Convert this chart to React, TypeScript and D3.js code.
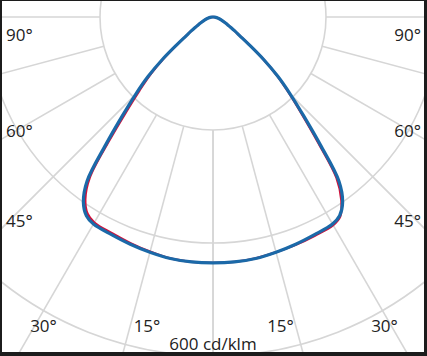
import React from "react";
import * as d3 from "d3";

// ---- data (cd/klm) ----
const gammaDeg = [0, 5, 10, 15, 20, 25, 30, 32.5, 35, 37.5, 40, 42.5, 45, 47.5, 50, 52.5, 55, 57.5, 60, 62.5, 65, 70, 75, 80, 85, 90];
const blueIntensity = [435, 435, 434, 431, 428, 425, 423, 417, 400, 366, 296, 238, 194, 156, 117, 81, 58, 45, 35, 28.5, 23, 16, 10.5, 6.5, 3, 0];
const redLeftIntensity = [435, 435, 434, 430, 426, 422.5, 420, 413, 394, 358, 286, 227, 184, 149, 113, 79, 57.5, 45, 35, 28.5, 23, 16, 10.5, 6.5, 3, 0];
const redRightIntensity = [435, 435, 434, 431, 429, 427, 425.5, 419, 396, 359, 288, 232, 190, 154, 116, 81, 58, 45, 35, 28.5, 23, 16, 10.5, 6.5, 3, 0];
const circleValues = [200, 400, 600, 800];
const radialAngles = [0, 15, 30, 45, 60, 75, 90];
const sideLabels = ["90°", "60°", "45°"];
const bottomLabels = ["30°", "15°", "15°", "30°"];
const unitLabel = "600 cd/klm";

const W = 427;
const H = 356;
const cx = 213;
const cy = 17;

const r = d3.scaleLinear().domain([0, 600]).range([0, 339]);

function buildPoints(left: number[], right: number[]): [number, number][] {
  const pts: [number, number][] = [[0, 0]];
  for (let i = gammaDeg.length - 1; i >= 0; i--) {
    if (left[i] > 0) pts.push([Math.PI + (gammaDeg[i] * Math.PI) / 180, r(left[i])]);
  }
  for (let i = 1; i < gammaDeg.length; i++) {
    if (right[i] > 0) pts.push([Math.PI - (gammaDeg[i] * Math.PI) / 180, r(right[i])]);
  }
  return pts;
}

const line = d3
  .lineRadial<[number, number]>()
  .angle((d) => d[0])
  .radius((d) => d[1])
  .curve(d3.curveCatmullRomClosed.alpha(0.5));

export default function App() {
  const bluePath = line(buildPoints(blueIntensity, blueIntensity)) || "";
  const redPath = line(buildPoints(redLeftIntensity, redRightIntensity)) || "";
  const font = "'Open Sans', 'Noto Sans', sans-serif";
  const r0 = r(circleValues[0]);
  return (
    <div style={{ position: "absolute", left: 0, top: 0 }}>
      <svg width={W} height={H} style={{ display: "block" }}>
        <defs>
          <clipPath id="inner">
            <rect x={2} y={1} width={422} height={351} />
          </clipPath>
        </defs>
        <rect x={0} y={0} width={W} height={H} fill="#1c1c1c" />
        <rect x={2} y={1} width={422} height={351} fill="#ffffff" />
        <g clipPath="url(#inner)">
          <g transform={`translate(${cx},${cy})`} stroke="#d6d6d6" strokeWidth={1.6} fill="none">
            {circleValues.map((v) => (
              <circle key={v} r={r(v)} />
            ))}
            {radialAngles.flatMap((a) =>
              [-1, 1].map((s) => {
                const t = (a * Math.PI) / 180;
                const x1 = s * r0 * Math.sin(t);
                const y1 = r0 * Math.cos(t);
                const x2 = s * 700 * Math.sin(t);
                const y2 = 700 * Math.cos(t);
                return <line key={`${a}_${s}`} x1={x1} y1={y1} x2={x2} y2={y2} />;
              })
            )}
          </g>
          <g transform={`translate(${cx},${cy})`} fill="none" strokeLinejoin="round">
            <path d={redPath} stroke="#d0103a" strokeWidth={2.3} />
            <path d={bluePath} stroke="#1b69a8" strokeWidth={3.2} />
          </g>
          <g fontFamily={font} fontSize={17} fill="#222">
            {sideLabels.map((t, i) => (
              <text key={`l${i}`} x={6} y={[41, 137, 227][i]}>
                {t}
              </text>
            ))}
            {sideLabels.map((t, i) => (
              <text key={`r${i}`} x={421} y={[41, 137, 227][i]} textAnchor="end">
                {t}
              </text>
            ))}
            {bottomLabels.map((t, i) => (
              <text key={`b${i}`} x={[43.5, 147, 280.5, 384.5][i]} y={332} textAnchor="middle">
                {t}
              </text>
            ))}
            <text x={213} y={350} textAnchor="middle">
              {unitLabel}
            </text>
          </g>
        </g>
      </svg>
    </div>
  );
}
